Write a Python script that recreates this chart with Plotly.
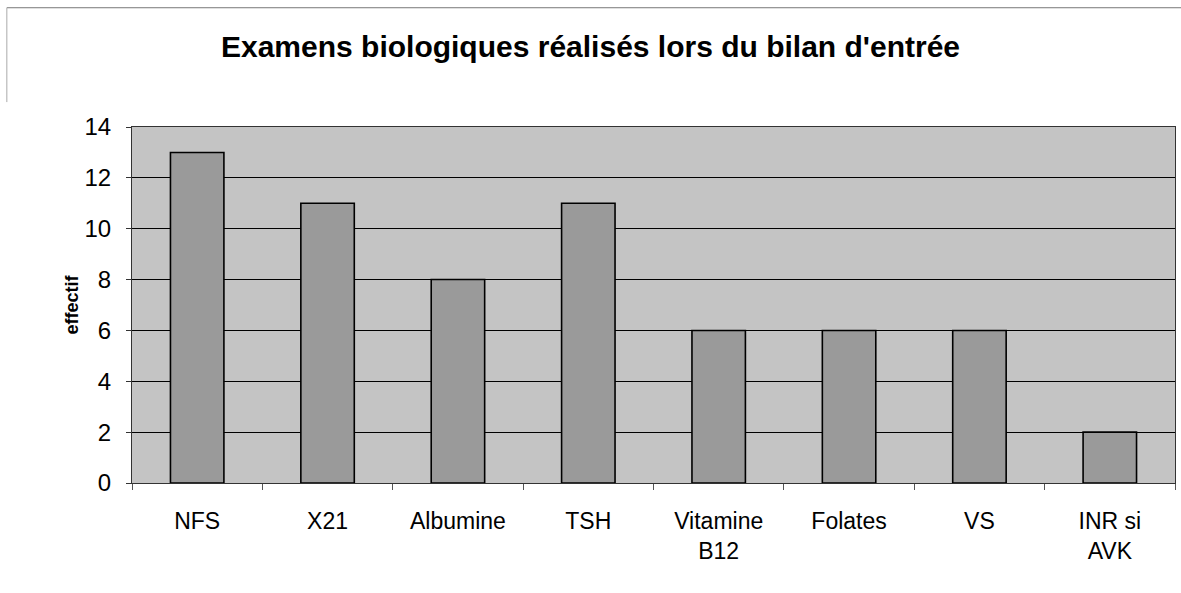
import plotly.graph_objects as go

# Examens biologiques du bilan d'entrée
categories = ["NFS", "X21", "Albumine", "TSH", "Vitamine<br>B12", "Folates", "VS", "INR si<br>AVK"]
effectifs = [13, 11, 8, 11, 6, 6, 6, 2]
y_ticks = [0, 2, 4, 6, 8, 10, 12, 14]

fig = go.Figure(
    go.Bar(
        x=categories,
        y=effectifs,
        marker=dict(color="#9a9a9a", line=dict(color="#000000", width=1.6)),
        width=0.41,
    )
)

fig.update_layout(
    width=1181,
    height=593,
    margin=dict(l=132, r=6, t=127, b=110),
    paper_bgcolor="white",
    plot_bgcolor="#c4c4c4",
    showlegend=False,
    font=dict(family="Liberation Sans, Arial, sans-serif", color="#000000"),
    title=dict(
        text="<b>Examens biologiques réalisés lors du bilan d'entrée</b>",
        x=0.5,
        xanchor="center",
        y=0.921,
        yanchor="middle",
        font=dict(size=30, color="#000000"),
    ),
)

fig.update_xaxes(
    type="category",
    tickson="boundaries",
    ticks="outside",
    ticklen=6,
    tickcolor="#555555",
    tickfont=dict(size=23),
    showline=True,
    linecolor="#333333",
    linewidth=1,
    mirror=True,
    showgrid=False,
    ticklabelstandoff=17,
)

fig.update_yaxes(
    range=[0, 14],
    tickvals=y_ticks,
    ticks="outside",
    ticklen=5,
    tickcolor="#333333",
    tickfont=dict(size=24),
    ticklabelstandoff=10,
    showgrid=True,
    gridcolor="#000000",
    gridwidth=1,
    showline=True,
    linecolor="#333333",
    linewidth=1,
    mirror=True,
    zeroline=False,
    title=dict(text="<b>effectif</b>", font=dict(size=18), standoff=1),
)

# Cadre du graphique (haut et gauche)
fig.add_shape(type="line", xref="paper", yref="paper",
              x0=-0.12, x1=1.006, y0=1.335, y1=1.335,
              line=dict(color="#777777", width=1))
fig.add_shape(type="line", xref="paper", yref="paper",
              x0=-0.12, x1=-0.12, y0=1.335, y1=1.07,
              line=dict(color="#aaaaaa", width=1))

fig.write_html("out.html")
